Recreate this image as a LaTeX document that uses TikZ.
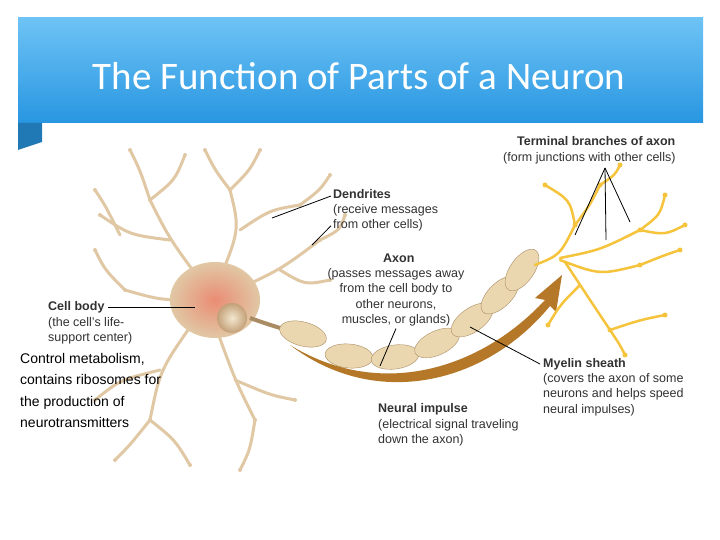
\documentclass[tikz,border=0pt]{standalone}
\usepackage{fontspec}
\setmainfont{Liberation Sans}
\newfontfamily\titlefont{Carlito}
\usetikzlibrary{decorations.pathreplacing}
\definecolor{hdr}{RGB}{40,150,225}
\definecolor{hdrl}{RGB}{110,195,245}
\definecolor{dend}{RGB}{225,200,165}
\definecolor{dendd}{RGB}{195,160,120}
\definecolor{myel}{RGB}{235,215,175}
\definecolor{myeld}{RGB}{170,140,100}
\definecolor{term}{RGB}{245,195,60}
\definecolor{imp}{RGB}{180,120,40}
\definecolor{lab}{RGB}{50,50,50}
\tikzset{
 hd/.style={font=\fontsize{12.5}{15}\selectfont\bfseries, text=lab, inner sep=0pt, anchor=west},
 tx/.style={font=\fontsize{12.5}{15.5}\selectfont, text=lab, inner sep=0pt, anchor=west},
 ptr/.style={draw=black, line width=0.8pt},
 den/.style={draw=dend, line cap=round, line join=round},
 ter/.style={draw=term, line cap=round, line join=round},
}
\begin{document}
\begin{tikzpicture}[x=1pt,y=-1pt]
\useasboundingbox (0,0) rectangle (720,540);
\fill[white] (0,0) rectangle (720,540);
% header
\shade[top color=hdrl, bottom color=hdr] (18,18) rectangle (703,123);
\fill[hdr!80!black] (18,123) -- (42,123) -- (42,142) -- (18,150) -- cycle;
\node[font=\titlefont\fontsize{39}{44}\selectfont, text=white, inner sep=0pt] (title) at (359,76) {The Function of Parts of a Neuron};
% dendrites
\foreach \a/\b/\c in {
 {(215,300)}/{(170,240)}/{(150,200)}, {(170,240)}/{(130,235)}/{(100,215)}, {(150,200)}/{(140,170)}/{(130,150)},
 {(150,200)}/{(175,180)}/{(185,155)}, {(215,290)}/{(240,230)}/{(230,190)}, {(240,230)}/{(270,210)}/{(300,205)},
 {(230,190)}/{(215,170)}/{(205,150)}, {(230,190)}/{(250,170)}/{(260,150)}, {(225,295)}/{(280,270)}/{(320,240)},
 {(280,270)}/{(305,285)}/{(330,280)}, {(195,320)}/{(160,370)}/{(150,420)}, {(160,370)}/{(120,380)}/{(95,400)},
 {(150,420)}/{(130,445)}/{(115,460)}, {(150,420)}/{(175,440)}/{(190,465)}, {(215,325)}/{(235,380)}/{(255,420)},
 {(235,380)}/{(270,395)}/{(295,400)}, {(255,420)}/{(250,450)}/{(240,470)}, {(200,300)}/{(160,300)}/{(125,290)},
 {(125,290)}/{(105,270)}/{(95,250)}, {(120,235)}/{(105,205)}/{(95,190)}, {(300,205)}/{(320,190)}/{(330,175)},
 {(320,240)}/{(340,230)}/{(345,215)}}
{ \draw[den, line width=3pt] \a .. controls \b .. \c; \fill[dend] \c circle (2); }
% soma
\shade[inner color=red!30!dend, outer color=dend] (215,300) ellipse (45 and 38);
\shade[inner color=myel!60!white, outer color=dendd] (232,318) circle (15);
% axon
\draw[myeld, line width=4pt] (250,318) .. controls (270,325) and (285,330) .. (300,333);
\foreach \x/\y/\r in {303/334/-15, 349/356/-5, 395/357/8, 437/343/25, 472/320/35, 500/295/45, 522/270/55}
 { \draw[myeld, fill=myel, rotate around={\r:(\x,\y)}] (\x,\y) ellipse (24 and 12); }
% neural impulse arrow
\fill[imp] (290,345) .. controls (380,400) and (480,370) .. (545,300) -- (535,298) -- (562,275) -- (556,312) -- (550,306) .. controls (485,385) and (375,410) .. (290,345) -- cycle;
% terminal branches
\foreach \a/\b/\c in {
 {(535,265)}/{(560,255)}/{(575,225)}, {(575,225)}/{(570,200)}/{(545,185)}, {(575,225)}/{(590,205)}/{(600,185)},
 {(560,258)}/{(600,250)}/{(640,230)}, {(640,230)}/{(660,215)}/{(665,195)}, {(640,230)}/{(665,235)}/{(685,225)},
 {(560,260)}/{(600,275)}/{(640,265)}, {(640,265)}/{(665,255)}/{(680,250)}, {(565,262)}/{(590,300)}/{(610,330)},
 {(610,330)}/{(620,345)}/{(625,355)}, {(610,330)}/{(640,320)}/{(665,315)}, {(580,285)}/{(560,305)}/{(548,325)},
 {(600,185)}/{(615,175)}/{(620,165)}}
{ \draw[ter, line width=2.5pt] \a .. controls \b .. \c; \fill[term] \c circle (2.5); }
% labels
\node[hd] (tb) at (517,141) {Terminal branches of axon};
\node[tx] (tbt) at (503,158) {(form junctions with other cells)};
\node[hd] (dd) at (333,194) {Dendrites};
\node[tx, align=left, anchor=north west] (ddt) at (333,204) {(receive messages\\from other cells)};
\node[hd] (ax) at (383,258) {Axon};
\node[tx, align=center, anchor=north] (axt) at (396,268) {(passes messages away\\from the cell body to\\other neurons,\\muscles, or glands)};
\node[hd] (cb) at (48,307) {Cell body};
\node[tx, align=left, anchor=north west] (cbt) at (48,317) {(the cell's life-\\support center)};
\node[hd] (ms) at (543,364) {Myelin sheath};
\node[tx, align=left, anchor=north west] (mst) at (543,373) {(covers the axon of some\\neurons and helps speed\\neural impulses)};
\node[hd] (ni) at (378,409) {Neural impulse};
\node[tx, align=left, anchor=north west] (nit) at (378,419) {(electrical signal traveling\\down the axon)};
\node[font=\fontsize{14}{21.5}\selectfont, align=left, anchor=north west, inner sep=0pt] (ctl) at (20,353) {Control metabolism,\\contains ribosomes for\\the production of\\neurotransmitters};
% pointers
\coordinate (p1) at (575,235); \coordinate (p2) at (606,240); \coordinate (p3) at (630,222);
\coordinate (tbp) at (605,168);
\draw[ptr] (tbp) -- (p1); \draw[ptr] (tbp) -- (p2); \draw[ptr] (tbp) -- (p3);
\coordinate (d1) at (272,218); \coordinate (d2) at (312,245);
\draw[ptr] (dd.west) ++(-2,2) -- (d1); \draw[ptr] (ddt.west) ++(-2,8) -- (d2);
\coordinate (c1) at (195,307);
\draw[ptr] (cb.east) ++(3,0) -- (c1);
\coordinate (m1) at (470,327);
\draw[ptr] (ms.west) ++(-3,0) -- (m1);
\coordinate (a1) at (380,366);
\draw[ptr] (axt.south) ++(0,2) -- (a1);
\end{tikzpicture}
\end{document}
